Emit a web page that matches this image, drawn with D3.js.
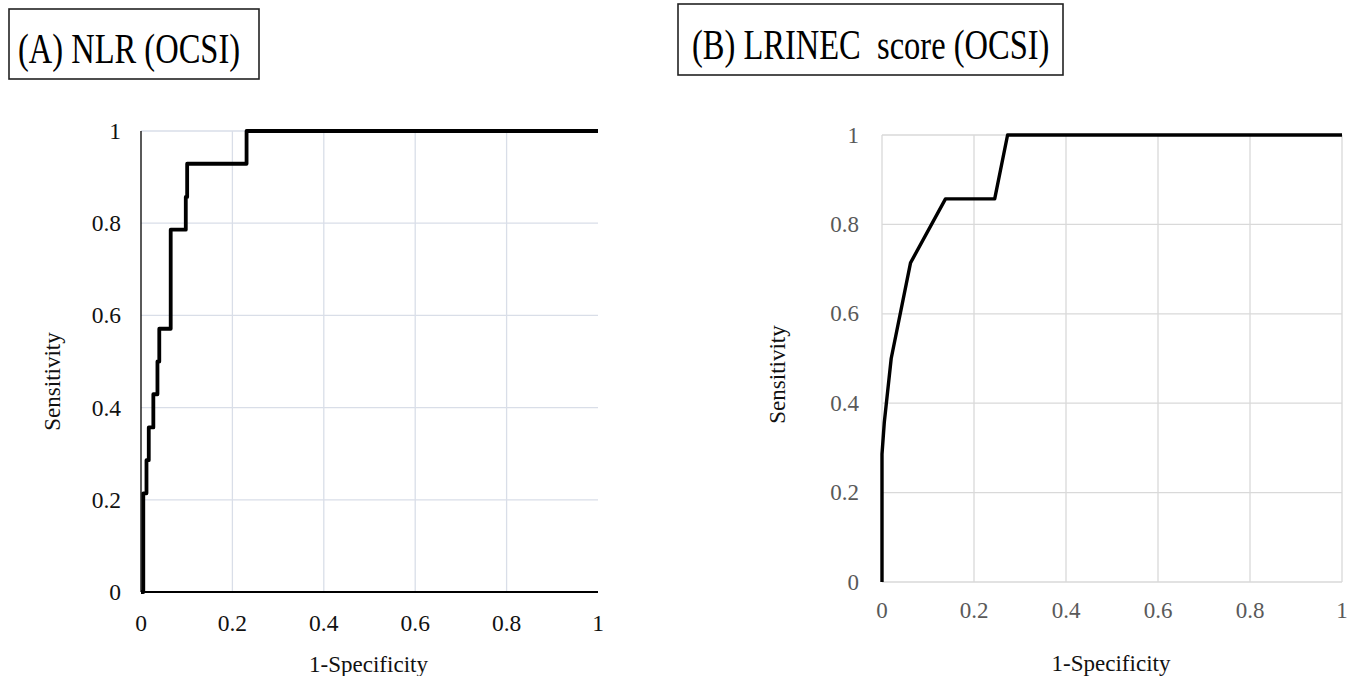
<!DOCTYPE html>
<html><head><meta charset="utf-8">
<script src="https://cdn.jsdelivr.net/npm/d3@7"></script>
<style>
html,body{margin:0;padding:0;background:#fff;}
text{font-family:"Liberation Serif","Times New Roman",serif;}
</style></head>
<body>
<svg id="chart" width="1366" height="676"></svg>
<script>
// ---- data ----
const titleA = "(A) NLR (OCSI)";
const titleB = "(B) LRINEC\u00a0 score (OCSI)";
const xLabel = "1-Specificity";
const yLabel = "Sensitivity";
const tickValues = [0, 0.2, 0.4, 0.6, 0.8, 1];
const tickLabels = ["0", "0.2", "0.4", "0.6", "0.8", "1"];
// Panel A: NLR ROC corner points (1-specificity, sensitivity), drawn as steps
const fprA = [0, 0.005, 0.012, 0.017, 0.027, 0.036, 0.040, 0.065, 0.098, 0.101, 0.231, 1];
const tprA = [0, 0.214, 0.286, 0.357, 0.429, 0.500, 0.571, 0.786, 0.857, 0.929, 1.000, 1];
// Panel B: LRINEC score ROC points, drawn as straight segments
const fprB = [0, 0, 0.005, 0.020, 0.062, 0.138, 0.245, 0.273, 1];
const tprB = [0, 0.286, 0.357, 0.500, 0.714, 0.857, 0.857, 1.000, 1];

const svg = d3.select("#chart");

function label(g, x, y, str, opts) {
  const sy = opts.sy || 1;
  return g.append("text")
    .attr("transform", `translate(${x},${y}) scale(1,${sy})` + (opts.rotate ? ` rotate(${opts.rotate})` : ""))
    .attr("text-anchor", opts.anchor || "middle")
    .attr("dominant-baseline", "central")
    .attr("font-size", opts.size)
    .attr("fill", opts.fill || "#000")
    .text(str);
}

function panel(cfg) {
  const g = svg.append("g");
  const x = d3.scaleLinear().domain([0, 1]).range([cfg.left, cfg.right]);
  const y = d3.scaleLinear().domain([0, 1]).range([cfg.bottom, cfg.top]);

  // gridlines
  g.selectAll(".vg").data(cfg.gridX).join("line")
    .attr("x1", d => x(d)).attr("x2", d => x(d))
    .attr("y1", y(0)).attr("y2", y(1))
    .attr("stroke", cfg.gridColor).attr("stroke-width", 1.3);
  g.selectAll(".hg").data(cfg.gridY).join("line")
    .attr("x1", x(0)).attr("x2", x(1))
    .attr("y1", d => y(d)).attr("y2", d => y(d))
    .attr("stroke", cfg.gridColor).attr("stroke-width", 1.3);

  // axis lines
  if (cfg.axisLines) {
    g.append("line").attr("x1", x(0)).attr("x2", x(0)).attr("y1", y(0)).attr("y2", y(1))
      .attr("stroke", "#000").attr("stroke-width", 1.3);
    g.append("line").attr("x1", x(0)).attr("x2", x(1)).attr("y1", y(0)).attr("y2", y(0))
      .attr("stroke", "#000").attr("stroke-width", 1.8);
  }

  // tick labels
  tickValues.forEach((v, i) => {
    label(g, cfg.yTickX, y(v), tickLabels[i], {anchor: "end", size: cfg.tickSize, fill: cfg.tickColor});
    label(g, x(v), cfg.xTickY, tickLabels[i], {anchor: "middle", size: cfg.tickSize, fill: cfg.tickColor});
  });

  // axis titles
  label(g, (cfg.left + cfg.right) / 2 - 1, cfg.xTitleY, xLabel, {size: cfg.titleSize, fill: cfg.axisTitleColor});
  label(g, cfg.yTitleX, (cfg.top + cfg.bottom) / 2 + cfg.yTitleDy, yLabel, {size: cfg.titleSize, fill: cfg.axisTitleColor, rotate: -90});

  // curve
  const pts = cfg.fpr.map((f, i) => [f, cfg.tpr[i]]);
  const line = d3.line().x(d => x(d[0])).y(d => y(d[1])).curve(cfg.curve);
  g.append("path").datum(pts).attr("d", line)
    .attr("fill", "none").attr("stroke", "#000")
    .attr("stroke-width", cfg.lineWidth).attr("stroke-linejoin", "round");

  // title box
  g.append("rect").attr("x", cfg.box[0]).attr("y", cfg.box[1])
    .attr("width", cfg.box[2]).attr("height", cfg.box[3])
    .attr("fill", "#fff").attr("stroke", "#222").attr("stroke-width", 1.6);
  label(g, cfg.titleX, cfg.titleY, cfg.title, {size: cfg.boxFont, sy: 1.3, anchor: "start"});
}

panel({
  left: 141, right: 598, top: 131, bottom: 592,
  gridX: [0.2, 0.4, 0.6, 0.8], gridY: [0.2, 0.4, 0.6, 0.8, 1],
  gridColor: "#d9dee8", axisLines: true,
  yTickX: 121, xTickY: 623, tickSize: 23.5, tickColor: "#111",
  xTitleY: 664, yTitleX: 52, yTitleDy: 20, titleSize: 23, axisTitleColor: "#111",
  fpr: fprA, tpr: tprA, curve: d3.curveStepAfter, lineWidth: 3.8,
  box: [9, 9, 250, 70], title: titleA, titleX: 18, titleY: 48.5, boxFont: 32.5
});

panel({
  left: 882, right: 1342, top: 135, bottom: 582,
  gridX: [0, 0.2, 0.4, 0.6, 0.8, 1], gridY: [0, 0.2, 0.4, 0.6, 0.8, 1],
  gridColor: "#d9d9d9", axisLines: false,
  yTickX: 859, xTickY: 610, tickSize: 23, tickColor: "#595959",
  xTitleY: 663, yTitleX: 777, yTitleDy: 16, titleSize: 23, axisTitleColor: "#111",
  fpr: fprB, tpr: tprB, curve: d3.curveLinear, lineWidth: 3.4,
  box: [678, 4, 385, 71], title: titleB, titleX: 692, titleY: 44, boxFont: 32.5
});
</script>
</body></html>
